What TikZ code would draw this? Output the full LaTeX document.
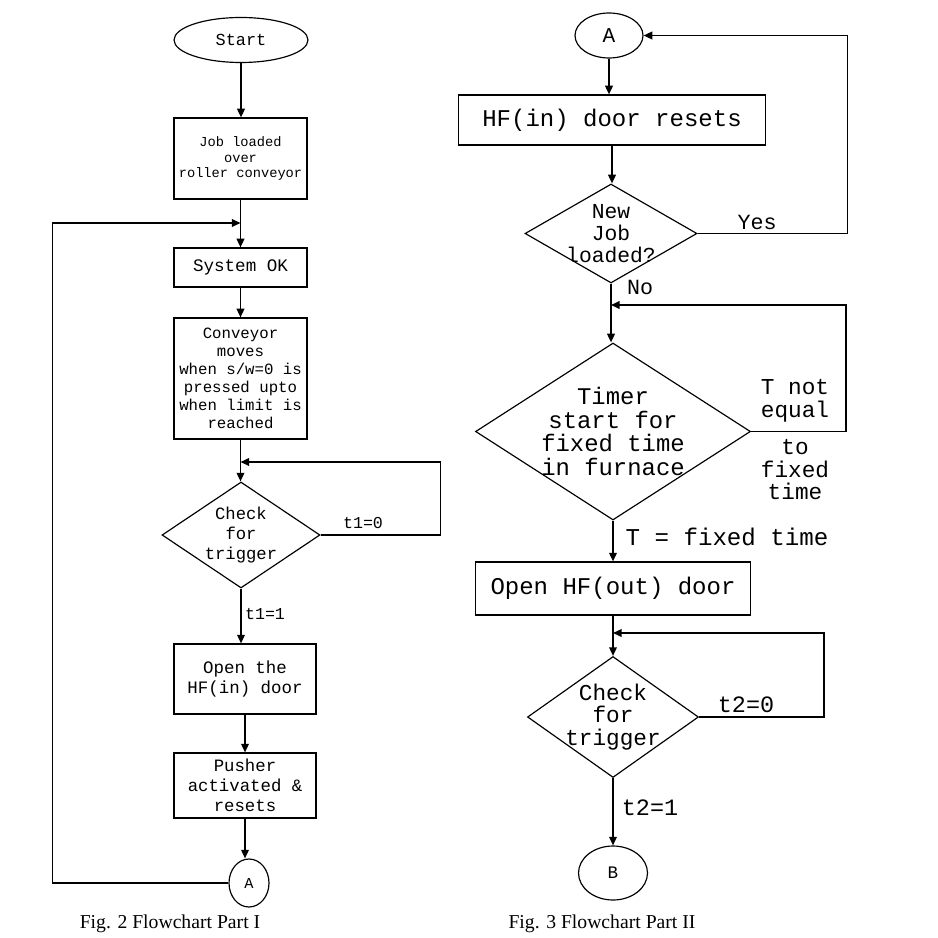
\documentclass[tikz,border=0pt]{standalone}
\usepackage{fontspec}
\setmainfont{Liberation Mono}
\newfontfamily\capfont{Liberation Serif}
\usepackage{tikz}
\usetikzlibrary{shapes.geometric,arrows.meta,positioning,calc}
\newcommand{\setfs}[2]{\fontsize{#1pt}{#2pt}\selectfont}
\tikzset{
  proc/.style={draw, line width=1pt, rectangle, inner sep=1pt, align=center},
  term/.style={draw, line width=1pt, ellipse, inner sep=0pt},
  decision/.style={draw, line width=1pt, diamond, inner sep=0pt},
  lbl/.style={align=center, inner sep=0pt},
  arr/.style={line width=1.4pt, -{Triangle[length=2.6mm, width=2.3mm]}}
}

\begin{document}
\begin{tikzpicture}[x=0.3mm, y=-0.3mm]
  \fill[white] (0,0) rectangle (937,938);
  \useasboundingbox (0,0) rectangle (937,938);

  % Part I
  \node[term, minimum width=40.2mm, minimum height=13.5mm, font={\setfs{14.4}{16}}] (start) at (241,40) {Start};
  \node[proc, minimum width=39.9mm, minimum height=24.3mm, font={\setfs{11.7}{13.4}}] (job) at (240.5,158.5) {Job loaded\\over\\roller conveyor};
  \node[proc, minimum width=39.9mm, minimum height=11.7mm, font={\setfs{15}{17}}] (sysok) at (240.5,267.5) {System OK};
  \node[proc, minimum width=39.9mm, minimum height=36.3mm, font={\setfs{13.4}{15.4}}] (conv) at (240.5,378.5) {Conveyor\\moves\\when s/w=0 is\\pressed upto\\when limit is\\reached};
  \node[decision, minimum width=47.4mm, minimum height=31.8mm,
        label={[lbl, font={\setfs{14.7}{17}}]center:Check\\for\\trigger}] (check1) at (241,535) {};
  \node[proc, minimum width=42.6mm, minimum height=21mm, font={\setfs{14.9}{16.5}}] (open) at (245,679) {Open the\\HF(in) door};
  \node[proc, minimum width=42.6mm, minimum height=19.5mm, font={\setfs{14.8}{17}}] (pusher) at (245,785.5) {Pusher\\activated \&\\resets};
  \node[term, minimum width=12mm, minimum height=14.4mm, font={\setfs{13}{14}}] (circA1) at (249,883) {A};

  % Part II
  \node[term, minimum width=20.4mm, minimum height=13.5mm, font={\setfs{18}{20}}] (circA2) at (609,35.5) {A};
  \node[proc, minimum width=92.1mm, minimum height=15mm, font={\setfs{20.5}{22}}] (resets) at (612,120) {HF(in) door resets};
  \node[decision, minimum width=51.6mm, minimum height=29.7mm,
        label={[lbl, font={\setfs{18.2}{18.6}}]center:New\\Job\\loaded?}] (newjob) at (611,233.5) {};
  \node[decision, minimum width=82.5mm, minimum height=53.1mm,
        label={[lbl, font={\setfs{20.4}{20}}]center:Timer\\start for\\fixed time\\in furnace}] (timer) at (613,431.5) {};
  \node[proc, minimum width=82.5mm, minimum height=15.9mm, font={\setfs{20.5}{22}}] (openout) at (613,588.5) {Open HF(out) door};
  \node[decision, minimum width=51.3mm, minimum height=36.3mm,
        label={[lbl, font={\setfs{19.4}{19.2}}]center:Check\\for\\trigger}] (check2) at (613,717) {};
  \node[term, minimum width=20.7mm, minimum height=16.2mm, font={\setfs{15}{16}}] (circB) at (613,873) {B};

  % junctions where loops come back
  \coordinate (jn1) at ($(job.south |- 0,223)$);
  \coordinate (jn3) at ($(conv.south |- 0,462)$);
  \coordinate (jn2) at ($(newjob.south |- 0,305)$);
  \coordinate (jn4) at ($(openout.south |- 0,633)$);

  % main flow
  \foreach \a/\b in {start/job, job/sysok, sysok/conv, conv/check1, check1/open, open/pusher, pusher/circA1,
                     circA2/resets, resets/newjob, newjob/timer, timer/openout, openout/check2, check2/circB}
    \draw[arr] (\a.south) -- (\a.south |- \b.north);

  % loops
  \draw[arr] (circA1.west) -- ++(-176,0) |- (jn1);
  \draw[arr] (check1.east) -- ++(120,0) |- (jn3);
  \draw[arr] (newjob.east) -- ++(150,0) |- (circA2.east);
  \draw[arr] (timer.east) -- ++(95,0) |- (jn2);
  \draw[arr] (check2.east) -- ++(125,0) |- (jn4);

  % branch labels
  \node[lbl, font={\setfs{14.2}{16}}] (t10) at (363,523) {t1=0};
  \node[lbl, font={\setfs{14.2}{16}}] (t11) at (265,614) {t1=1};
  \node[lbl, font={\setfs{18.5}{20}}] (yes) at (757,222) {Yes};
  \node[lbl, font={\setfs{18.5}{20}}] (no) at (640,287) {No};
  \node[lbl, font={\setfs{19.4}{19.2}}] (tneq) at (795,401) {T not\\equal};
  \node[lbl, font={\setfs{19.4}{19.2}}] (tofix) at (795,470) {to\\fixed\\time};
  \node[lbl, font={\setfs{20.6}{22}}] (teq) at (727,537) {T = fixed time};
  \node[lbl, font={\setfs{20}{22}}] (t20) at (746,705) {t2=0};
  \node[lbl, font={\setfs{20}{22}}] (t21) at (650,808) {t2=1};

  % captions
  \node[lbl, font={\capfont\setfs{16.8}{18}}] (cap1) at (170,924) {Fig. 2 Flowchart Part I};
  \node[lbl, font={\capfont\setfs{16.8}{18}}] (cap2) at (602,924) {Fig. 3 Flowchart Part II};
\end{tikzpicture}
\end{document}
